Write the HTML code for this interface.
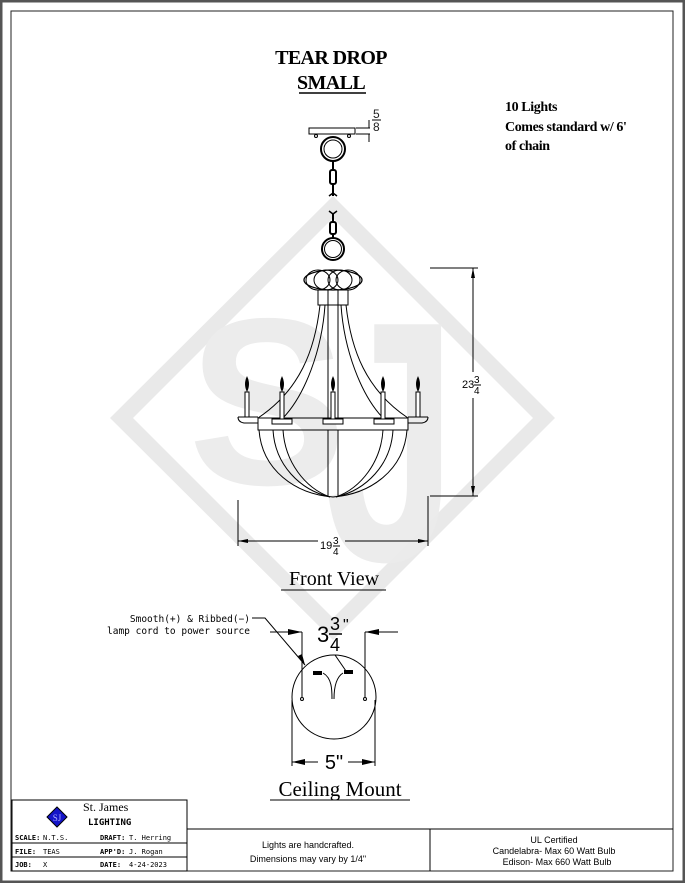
<!DOCTYPE html>
<html><head><style>
body{margin:0;background:#fff;}
svg{display:block;font-family:"Liberation Sans",sans-serif;}
.s{font-family:"Liberation Serif",serif;}
.m{font-family:"DejaVu Sans Mono","Liberation Mono",monospace;}
</style></head><body>
<svg width="685" height="883" viewBox="0 0 685 883">
<rect x="0" y="0" width="685" height="883" fill="#fff"/>
<rect x="1" y="1" width="683" height="881" fill="none" stroke="#555" stroke-width="3"/>
<rect x="11" y="11" width="662" height="860" fill="none" stroke="#222" stroke-width="1"/>
<!-- watermark -->
<path d="M333 196 L555 418 L333 640 L110 418 Z M333 218 L133 418 L333 618 L533 418 Z" fill="#e9e9e9" fill-rule="evenodd"/>
<text x="188" y="484" font-size="238" font-weight="bold" fill="#ececec">S</text>
<text transform="translate(325,560) scale(1,1.44)" x="0" y="0" font-size="238" font-weight="bold" fill="#ececec" opacity="0.95">J</text>
<!-- title -->
<text x="331" y="64" text-anchor="middle" class="s" font-size="20" font-weight="bold" letter-spacing="-0.6">TEAR DROP</text>
<text x="331" y="89" text-anchor="middle" class="s" font-size="20" font-weight="bold" letter-spacing="-0.6">SMALL</text>
<line x1="299" y1="93" x2="366" y2="93" stroke="#000" stroke-width="1.5"/>
<text x="505" y="111" class="s" font-size="14" font-weight="bold" letter-spacing="-0.4">10 Lights</text>
<text x="505" y="131" class="s" font-size="14" font-weight="bold" letter-spacing="-0.4">Comes standard w/ 6'</text>
<text x="505" y="150" class="s" font-size="14" font-weight="bold" letter-spacing="-0.4">of chain</text>
<!-- chandelier -->
<g fill="none" stroke="#000" stroke-width="1">
<rect x="309" y="128" width="46" height="6"/>
<line x1="356" y1="128" x2="370" y2="128"/><line x1="356" y1="134" x2="370" y2="134"/>
<line x1="369" y1="120" x2="369" y2="128"/><line x1="369" y1="134" x2="369" y2="142"/>
<circle cx="316" cy="136" r="1.5"/><circle cx="349" cy="136" r="1.5"/>
<circle cx="333" cy="149" r="12" stroke-width="2"/><circle cx="333" cy="149" r="9"/>
<line x1="333" y1="161" x2="333" y2="170" stroke-width="2"/>
<rect x="330" y="170" width="6" height="14" rx="2" stroke-width="2"/>
<line x1="333" y1="184" x2="333" y2="196" stroke-width="2"/>
<path d="M329 196 L333 193 L337 196 M329 211 L333 214 L337 211" stroke-width="1.5"/>
<line x1="333" y1="214" x2="333" y2="222" stroke-width="2"/>
<rect x="330" y="222" width="6" height="12" rx="2" stroke-width="2"/>
<line x1="333" y1="234" x2="333" y2="238" stroke-width="2"/>
<circle cx="333" cy="249" r="11" stroke-width="2"/><circle cx="333" cy="249" r="8.5"/>
<ellipse cx="333" cy="280" rx="29" ry="10" stroke-width="1.3"/>
<ellipse cx="318" cy="280" rx="12" ry="10"/><ellipse cx="348" cy="280" rx="12" ry="10"/>
<ellipse cx="326" cy="280" rx="12" ry="10"/><ellipse cx="340" cy="280" rx="12" ry="10"/>
<rect x="318" y="290" width="30" height="15"/>
<line x1="328" y1="290" x2="328" y2="420"/><line x1="338" y1="290" x2="338" y2="420"/>
<path d="M320 305 C315 350 300 390 258 418"/>
<path d="M325 305 C322 350 305 395 283 418"/>
<path d="M346 305 C351 350 366 390 408 418"/>
<path d="M341 305 C344 350 361 395 383 418"/>
<rect x="258" y="418" width="150" height="12"/>
<path d="M238 417 L258 417 M238 417 Q238 422 244 423 L258 423"/>
<path d="M428 417 L408 417 M428 417 Q428 422 422 423 L408 423"/>
<line x1="328" y1="430" x2="328" y2="496"/><line x1="338" y1="430" x2="338" y2="496"/>
<path d="M259 430 C262 470 295 494 333 497 C371 494 404 470 407 430"/>
<path d="M273 430 C275 465 300 490 330 497"/>
<path d="M283 430 C285 462 305 488 330 497"/>
<path d="M393 430 C391 465 366 490 336 497"/>
<path d="M383 430 C381 462 361 488 336 497"/>
<rect x="272" y="419" width="20" height="5" fill="#fff"/>
<rect x="323" y="419" width="20" height="5" fill="#fff"/>
<rect x="374" y="419" width="20" height="5" fill="#fff"/>
</g>
<g fill="#000">
<path d="M247 376 q-4 8 0 16 q4 -8 0 -16z"/><path d="M282 376 q-4 8 0 16 q4 -8 0 -16z"/>
<path d="M333 376 q-4 8 0 16 q4 -8 0 -16z"/><path d="M383 376 q-4 8 0 16 q4 -8 0 -16z"/>
<path d="M418 376 q-4 8 0 16 q4 -8 0 -16z"/>
</g>
<g fill="#fff" stroke="#000" stroke-width="1">
<rect x="245" y="392" width="4" height="25"/><rect x="280" y="392" width="4" height="27"/>
<rect x="331" y="392" width="4" height="27"/><rect x="381" y="392" width="4" height="27"/>
<rect x="416" y="392" width="4" height="25"/>
</g>
<text x="373" y="118" font-size="12" fill="#222">5</text>
<text x="373" y="131" font-size="12" fill="#222">8</text>
<line x1="372" y1="120" x2="381" y2="120" stroke="#000"/>
<!-- dims -->
<g stroke="#000" stroke-width="1" fill="none">
<line x1="430" y1="268" x2="478" y2="268"/><line x1="430" y1="496" x2="478" y2="496"/>
<line x1="473" y1="268" x2="473" y2="372"/><line x1="473" y1="398" x2="473" y2="496"/>
<line x1="238" y1="500" x2="238" y2="546"/><line x1="428" y1="496" x2="428" y2="546"/>
<line x1="238" y1="541" x2="318" y2="541"/><line x1="345" y1="541" x2="428" y2="541"/>
</g>
<g fill="#000">
<polygon points="473,268 471,278 475,278"/><polygon points="473,496 471,486 475,486"/>
<polygon points="238,541 248,539 248,543"/><polygon points="428,541 418,539 418,543"/>
</g>
<text x="462" y="388" font-size="11">23</text><text x="474" y="383" font-size="10">3</text><text x="474" y="394" font-size="10">4</text>
<line x1="474" y1="385" x2="481" y2="385" stroke="#000"/>
<text x="320" y="549" font-size="11">19</text><text x="333" y="544" font-size="10">3</text><text x="333" y="555" font-size="10">4</text>
<line x1="333" y1="546" x2="340" y2="546" stroke="#000"/>
<text x="334" y="585" text-anchor="middle" class="s" font-size="20">Front View</text>
<line x1="281" y1="590" x2="386" y2="590" stroke="#000"/>
<!-- ceiling mount -->
<text x="250" y="622" text-anchor="end" class="m" font-size="9.5">Smooth(+) &amp; Ribbed(−)</text>
<text x="250" y="634" text-anchor="end" class="m" font-size="9.5">lamp cord to power source</text>
<g stroke="#000" stroke-width="1" fill="none">
<path d="M252 618 L265 618 L305 665"/>
<circle cx="334" cy="697" r="42"/>
<line x1="302" y1="632" x2="302" y2="697"/><line x1="365" y1="632" x2="365" y2="697"/>
<line x1="270" y1="632" x2="302" y2="632"/><line x1="365" y1="632" x2="398" y2="632"/>
<circle cx="302" cy="699" r="1.5"/><circle cx="365" cy="699" r="1.5"/>
<path d="M323 673 C332 678 332 690 332 699 M343 673 C335 678 334 690 334 699"/>
<path d="M335 655 L346 671"/>
<line x1="292" y1="700" x2="292" y2="766"/><line x1="375" y1="700" x2="375" y2="766"/>
<line x1="292" y1="762" x2="318" y2="762"/><line x1="348" y1="762" x2="375" y2="762"/>
</g>
<g fill="#000">
<polygon points="302,632 288,629 288,635"/><polygon points="365,632 379,629 379,635"/>
<polygon points="292,762 305,759 305,765"/><polygon points="375,762 362,759 362,765"/>
<polygon points="305,665 298,656 302,654"/>
<rect x="313" y="671" width="9" height="4"/><rect x="344" y="670" width="9" height="4"/>
</g>
<text x="317" y="642" font-size="22">3</text><text x="330" y="630" font-size="18">3</text><text x="330" y="651" font-size="18">4</text>
<line x1="329" y1="634" x2="342" y2="634" stroke="#000" stroke-width="1.5"/><text x="343" y="630" font-size="16">"</text>
<text x="334" y="769" text-anchor="middle" font-size="20">5"</text>
<text x="340" y="796" text-anchor="middle" class="s" font-size="21">Ceiling Mount</text>
<line x1="270" y1="800" x2="410" y2="800" stroke="#000"/>
<!-- title block -->
<g stroke="#000" stroke-width="1" fill="none">
<rect x="12" y="800" width="175" height="71"/>
<line x1="187" y1="829" x2="673" y2="829"/>
<line x1="12" y1="843" x2="187" y2="843"/><line x1="12" y1="857" x2="187" y2="857"/>
<line x1="430" y1="829" x2="430" y2="871"/>
</g>
<polygon points="57,807 67,817 57,827 47,817" fill="#1414c8" stroke="#000"/>
<text x="57" y="821" text-anchor="middle" class="s" font-size="9" fill="#aaf">SJ</text>
<text x="83" y="811" class="s" font-size="12">St. James</text>
<text x="88" y="825" class="m" font-size="9" font-weight="bold">LIGHTING</text>
<g class="m" font-size="7">
<text x="15" y="840" font-weight="bold">SCALE:</text><text x="43" y="840">N.T.S.</text>
<text x="100" y="840" font-weight="bold">DRAFT:</text><text x="129" y="840">T. Herring</text>
<text x="15" y="854" font-weight="bold">FILE:</text><text x="43" y="854">TEAS</text>
<text x="100" y="854" font-weight="bold">APP'D:</text><text x="129" y="854">J. Rogan</text>
<text x="15" y="867" font-weight="bold">JOB:</text><text x="43" y="867">X</text>
<text x="100" y="867" font-weight="bold">DATE:</text><text x="129" y="867">4-24-2023</text>
</g>
<text x="308" y="848" text-anchor="middle" font-size="9">Lights are handcrafted.</text>
<text x="308" y="862" text-anchor="middle" font-size="9">Dimensions may vary by 1/4"</text>
<text x="554" y="843" text-anchor="middle" font-size="9">UL Certified</text>
<text x="554" y="854" text-anchor="middle" font-size="9">Candelabra- Max 60 Watt Bulb</text>
<text x="557" y="865" text-anchor="middle" font-size="9">Edison- Max 660 Watt Bulb</text>
</svg>
</body></html>
